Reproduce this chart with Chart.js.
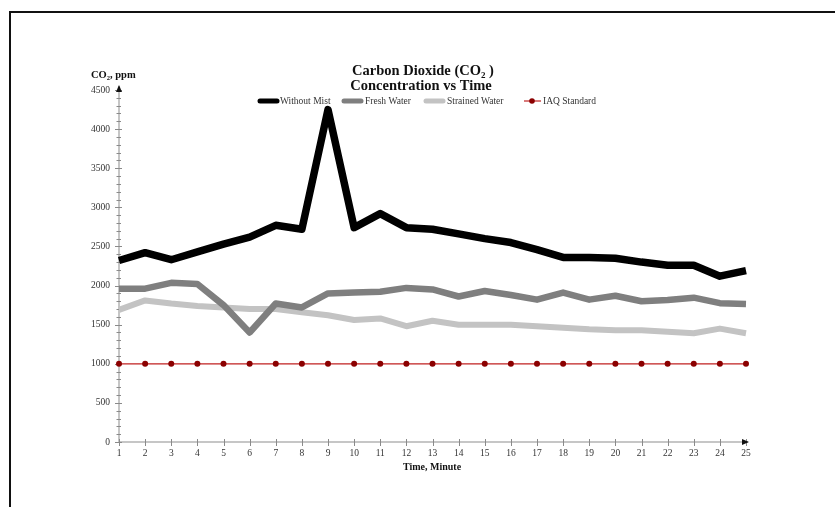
<!DOCTYPE html>
<html>
<head>
<meta charset="utf-8">
<script src="https://cdn.jsdelivr.net/npm/chart.js@4.4.1/dist/chart.umd.min.js"></script>
<style>
  html, body { margin: 0; padding: 0; background: #fff; }
  #wrap { position: relative; width: 835px; height: 507px; overflow: hidden; }
  #frame { position: absolute; left: 9px; top: 11px; right: -5px; bottom: -5px;
           border-top: 2px solid #111; border-left: 2px solid #111; }
  canvas { position: absolute; left: 0; top: 0; }
</style>
</head>
<body>
<div id="wrap">
  <div id="frame"></div>
  <canvas id="c" width="835" height="507"></canvas>
</div>
<script>
// Time in minutes
const minutes = ['1','2','3','4','5','6','7','8','9','10','11','12','13','14','15','16','17','18','19','20','21','22','23','24','25'];

// CO2 concentration, ppm
const withoutMist   = [2320, 2420, 2330, 2430, 2530, 2620, 2770, 2720, 4250, 2740, 2920, 2740, 2720, 2660, 2600, 2550, 2460, 2360, 2360, 2350, 2300, 2260, 2260, 2120, 2190];
const freshWater    = [1960, 1960, 2035, 2020, 1750, 1400, 1770, 1720, 1900, 1910, 1920, 1970, 1950, 1860, 1930, 1880, 1820, 1910, 1820, 1870, 1800, 1815, 1845, 1775, 1765];
const strainedWater = [1690, 1810, 1770, 1740, 1720, 1700, 1700, 1660, 1620, 1560, 1580, 1480, 1550, 1500, 1500, 1500, 1480, 1460, 1440, 1430, 1430, 1410, 1390, 1450, 1390];
const iaqStandard   = [1000, 1000, 1000, 1000, 1000, 1000, 1000, 1000, 1000, 1000, 1000, 1000, 1000, 1000, 1000, 1000, 1000, 1000, 1000, 1000, 1000, 1000, 1000, 1000, 1000];

// Y axis range and steps
const yMin = 0, yMax = 4500, yMajor = 500, yMinor = 100;

const SERIF = '"Liberation Serif", "Times New Roman", serif';

// Bold text with a lowered small "2" for CO2
function drawCO2Text(ctx, parts, x, y, size, align) {
  ctx.save();
  ctx.textBaseline = 'alphabetic';
  ctx.textAlign = 'left';
  let total = 0;
  const widths = parts.map(p => {
    ctx.font = 'bold ' + (p[1] ? size * 0.62 : size) + 'px ' + SERIF;
    const w = ctx.measureText(p[0]).width;
    total += w;
    return w;
  });
  let cx = align === 'center' ? x - total / 2 : x;
  parts.forEach((p, i) => {
    ctx.font = 'bold ' + (p[1] ? size * 0.62 : size) + 'px ' + SERIF;
    ctx.fillText(p[0], cx, p[1] ? y + size * 0.22 : y);
    cx += widths[i];
  });
  ctx.restore();
}

const decorPlugin = {
  id: 'decor',
  beforeDatasetsDraw(chart) {
    const { ctx, scales: { x, y } } = chart;
    const x0 = x.left, y0 = y.getPixelForValue(0);
    const xEnd = x.right, yTop = y.getPixelForValue(yMax);
    ctx.save();
    // axis lines
    ctx.strokeStyle = '#c6c6c6';
    ctx.lineWidth = 2;
    ctx.beginPath();
    ctx.moveTo(x0, y0); ctx.lineTo(x0, yTop - 4);
    ctx.moveTo(x0, y0); ctx.lineTo(xEnd + 2, y0);
    ctx.stroke();
    // tick marks crossing the axes
    ctx.strokeStyle = '#8a8a8a';
    ctx.lineWidth = 1;
    ctx.beginPath();
    for (let v = yMin; v <= yMax; v += yMinor) {
      const py = Math.round(y.getPixelForValue(v)) + 0.5;
      const major = v % yMajor === 0;
      ctx.moveTo(x0 - (major ? 4 : 2.5), py);
      ctx.lineTo(x0 + (major ? 3 : 2), py);
    }
    for (let i = 0; i < minutes.length; i++) {
      const px = Math.round(x.getPixelForValue(i)) + 0.5;
      ctx.moveTo(px, y0 - 3);
      ctx.lineTo(px, y0 + 4);
    }
    ctx.stroke();
    // arrow heads
    ctx.fillStyle = '#111';
    ctx.beginPath();
    ctx.moveTo(x0, yTop - 5); ctx.lineTo(x0 - 3, yTop + 2); ctx.lineTo(x0 + 3, yTop + 2); ctx.closePath();
    ctx.fill();
    ctx.beginPath();
    ctx.moveTo(xEnd + 3, y0); ctx.lineTo(xEnd - 4, y0 - 3); ctx.lineTo(xEnd - 4, y0 + 3); ctx.closePath();
    ctx.fill();
    ctx.restore();
  },
  afterDraw(chart) {
    const { ctx } = chart;
    ctx.save();
    ctx.fillStyle = '#111';
    // title
    drawCO2Text(ctx, [['Carbon Dioxide (CO', false], ['2', true], [' )', false]], 423, 75, 14.5, 'center');
    drawCO2Text(ctx, [['Concentration vs Time', false]], 421, 90, 14.5, 'center');
    // axis titles
    drawCO2Text(ctx, [['CO', false], ['2', true], [', ppm', false]], 91, 78, 10.5, 'left');
    drawCO2Text(ctx, [['Time, Minute', false]], 432, 470, 10, 'center');

    // legend
    const items = [
      { ds: 0, x: 258, tx: 280 },
      { ds: 1, x: 342, tx: 365 },
      { ds: 2, x: 424, tx: 447 },
      { ds: 3, x: 522, tx: 543 }
    ];
    ctx.font = '9.5px ' + SERIF;
    ctx.textBaseline = 'middle';
    ctx.textAlign = 'left';
    const ly = 101;
    items.forEach(it => {
      const d = chart.data.datasets[it.ds];
      ctx.strokeStyle = d.borderColor;
      ctx.lineCap = d.borderWidth > 2 ? 'round' : 'butt';
      ctx.lineWidth = d.borderWidth > 2 ? 5 : 1.2;
      ctx.beginPath();
      ctx.moveTo(it.x + 2, ly); ctx.lineTo(it.x + 19, ly);
      ctx.stroke();
      if (d.pointRadius > 0) {
        ctx.fillStyle = d.pointBackgroundColor;
        ctx.beginPath();
        ctx.arc(it.x + 10, ly, 2.8, 0, Math.PI * 2);
        ctx.fill();
      }
      ctx.fillStyle = '#333';
      ctx.fillText(d.label, it.tx, ly);
    });
    ctx.restore();
  }
};

new Chart(document.getElementById('c'), {
  type: 'line',
  data: {
    labels: minutes,
    datasets: [
      { label: 'Without Mist', data: withoutMist, borderColor: '#000000', borderWidth: 7.5,
        pointRadius: 0, tension: 0, borderJoinStyle: 'round', borderCapStyle: 'butt' },
      { label: 'Fresh Water', data: freshWater, borderColor: '#7f7f7f', borderWidth: 6.5,
        pointRadius: 0, tension: 0, borderJoinStyle: 'round', borderCapStyle: 'butt' },
      { label: 'Strained Water', data: strainedWater, borderColor: '#c3c3c3', borderWidth: 6,
        pointRadius: 0, tension: 0, borderJoinStyle: 'round', borderCapStyle: 'butt', order: 1 },
      { label: 'IAQ Standard', data: iaqStandard, borderColor: '#c02020', borderWidth: 1.2,
        pointRadius: 3, pointBackgroundColor: '#8b0000', pointBorderColor: '#8b0000', pointBorderWidth: 0,
        tension: 0 }
    ]
  },
  options: {
    responsive: false,
    animation: false,
    devicePixelRatio: 1,
    layout: { padding: { left: 79, top: 90, right: 89, bottom: 41 } },
    plugins: {
      legend: { display: false },
      title: { display: false },
      tooltip: { enabled: false }
    },
    scales: {
      x: {
        type: 'category',
        offset: false,
        grid: { display: false, drawTicks: false },
        border: { display: false },
        ticks: { color: '#333', font: { family: SERIF, size: 9.5 }, padding: 6, autoSkip: false, maxRotation: 0 },
        afterFit: s => { s.height = 24; }
      },
      y: {
        min: yMin, max: yMax,
        grid: { display: false, drawTicks: false },
        border: { display: false },
        ticks: { stepSize: yMajor, color: '#333', font: { family: SERIF, size: 9.5 }, padding: 9,
                 callback: v => String(v) },
        afterFit: s => { s.width = 40; }
      }
    }
  },
  plugins: [decorPlugin]
});
</script>
</body>
</html>
